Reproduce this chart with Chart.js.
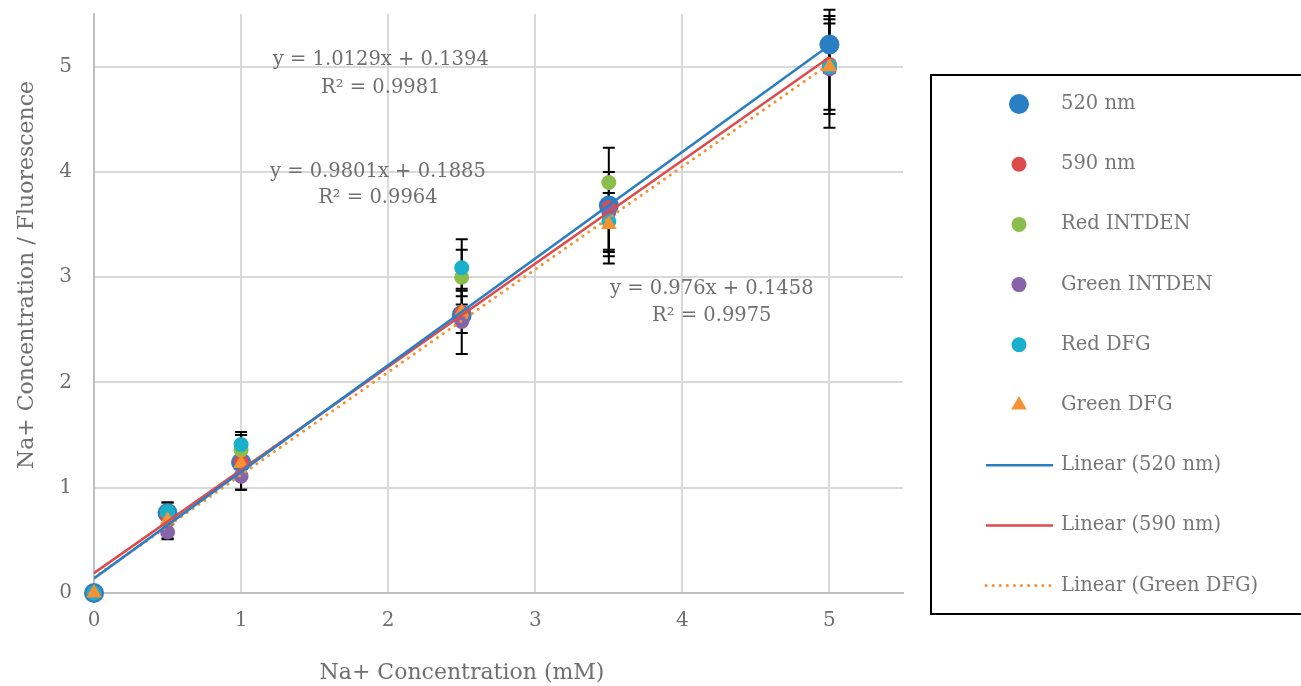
<!DOCTYPE html>
<html>
<head>
<meta charset="utf-8">
<script src="https://cdn.jsdelivr.net/npm/chart.js@4.4.0/dist/chart.umd.min.js"></script>
<style>
  html, body { margin: 0; padding: 0; background: #fff; }
  #wrap { width: 1301px; height: 686px; }
</style>
</head>
<body>
<div id="wrap"><canvas id="chart"></canvas></div>
<script>
// data
const concentrations = [0, 0.5, 1, 2.5, 3.5, 5];
const nm520 = [0, 0.76, 1.24, 2.64, 3.68, 5.21];
const nm590 = [0, 0.73, 1.25, 2.66, 3.66, 5.02];
const redIntden = [0, 0.77, 1.36, 3.0, 3.9, 5.0];
const greenIntden = [0, 0.58, 1.11, 2.58, 3.62, 4.98];
const redDfg = [0, 0.77, 1.41, 3.09, 3.53, 5.0];
const greenDfg = [0, 0.69, 1.23, 2.67, 3.5, 5.0];

// error bar half-widths
const err520 = [0, 0.1, 0.26, 0, 0.55, 0.27];
const err590 = [0, 0, 0, 0, 0, 0];
const errRedIntden = [0, 0, 0.14, 0.26, 0, 0];
const errGreenIntden = [0, 0.07, 0.13, 0.31, 0.38, 0.56];
const errRedDfg = [0, 0, 0.12, 0.27, 0.27, 0.41];
const errGreenDfg = [0, 0.17, 0, 0.2, 0.3, 0.45];

// trendline end points (x = 0 and x = 5)
const trendX = [0, 5];
const trend520 = [0.139, 5.204];
const trend590 = [0.189, 5.089];
const trendGreenDfg = [0.146, 5.026];

const xTicks = [0, 1, 2, 3, 4, 5];
const yTicks = [0, 1, 2, 3, 4, 5];

const equations = [
  { x: 1.95, y: 5.06, text: "y = 1.0129x + 0.1394" },
  { x: 1.95, y: 4.8, text: "R² = 0.9981" },
  { x: 1.93, y: 4.0, text: "y = 0.9801x + 0.1885" },
  { x: 1.93, y: 3.75, text: "R² = 0.9964" },
  { x: 4.2, y: 2.89, text: "y = 0.976x + 0.1458" },
  { x: 4.2, y: 2.63, text: "R² = 0.9975" },
];

const xTitle = "Na+ Concentration (mM)";
const yTitle = "Na+ Concentration / Fluorescence";

const FONT = "'DejaVu Serif', serif";
const GREY = "#6f6f6f";
const pts = (xs, ys) => xs.map((x, i) => ({ x: x, y: ys[i] }));

const colors = {
  blue: "#2a7ec3",
  red: "#dc4c4c",
  green: "#8bbd4c",
  purple: "#8763a9",
  cyan: "#1aafca",
  orange: "#f79233",
};

function markerSet(label, ys, errs, color, style, radius, order) {
  return {
    label: label,
    data: pts(concentrations, ys),
    errors: errs,
    backgroundColor: color,
    borderColor: color,
    pointStyle: style,
    pointRadius: radius,
    pointBorderWidth: 0,
    showLine: false,
    clip: false,
    order: order,
  };
}

function trendSet(label, ys, color, dash) {
  return {
    label: label,
    data: pts(trendX, ys),
    borderColor: color,
    backgroundColor: color,
    borderWidth: dash ? 3 : 2.5,
    borderDash: dash || [],
    borderCapStyle: dash ? "round" : "butt",
    pointRadius: 0,
    showLine: true,
    isTrend: true,
    order: 0,
  };
}

// error bars, drawn under the markers
const errorBars = {
  id: "errorBars",
  beforeDatasetsDraw(chart) {
    const { ctx, scales: { x, y } } = chart;
    ctx.save();
    ctx.strokeStyle = "#000";
    ctx.lineWidth = 2;
    chart.data.datasets.forEach((ds) => {
      if (!ds.errors) return;
      ds.data.forEach((p, i) => {
        const e = ds.errors[i];
        if (!e) return;
        const px = x.getPixelForValue(p.x);
        const top = y.getPixelForValue(p.y + e);
        const bot = y.getPixelForValue(p.y - e);
        ctx.beginPath();
        ctx.moveTo(px, top);
        ctx.lineTo(px, bot);
        ctx.moveTo(px - 6, top);
        ctx.lineTo(px + 6, top);
        ctx.moveTo(px - 6, bot);
        ctx.lineTo(px + 6, bot);
        ctx.stroke();
      });
    });
    ctx.restore();
  },
};

// trendline equations and the axis titles
const chartText = {
  id: "chartText",
  afterDatasetsDraw(chart) {
    const { ctx, scales: { x, y } } = chart;
    ctx.save();
    ctx.fillStyle = GREY;
    ctx.font = "19.5px " + FONT;
    ctx.textAlign = "center";
    ctx.textBaseline = "middle";
    equations.forEach((eq) => {
      ctx.fillText(eq.text, x.getPixelForValue(eq.x), y.getPixelForValue(eq.y));
    });
    ctx.font = "22px " + FONT;
    ctx.fillText(xTitle, 462, 673);
    ctx.translate(27, 275);
    ctx.rotate(-Math.PI / 2);
    ctx.fillText(yTitle, 0, 0);
    ctx.restore();
  },
};

// boxed legend on the right
const boxLegend = {
  id: "boxLegend",
  afterDraw(chart) {
    const ctx = chart.ctx;
    const left = 931, top = 75, bottom = 614;
    ctx.save();
    ctx.strokeStyle = "#000";
    ctx.lineWidth = 2;
    ctx.strokeRect(left, top, chart.width - left + 5, bottom - top);
    ctx.font = "19.5px " + FONT;
    ctx.textBaseline = "middle";
    ctx.textAlign = "left";
    chart.data.datasets.forEach((ds, i) => {
      const cy = 104 + i * 60.2;
      if (ds.isTrend) {
        ctx.beginPath();
        ctx.strokeStyle = ds.borderColor;
        ctx.lineWidth = ds.borderWidth;
        ctx.lineCap = ds.borderCapStyle;
        ctx.setLineDash(ds.borderDash);
        ctx.moveTo(986, cy);
        ctx.lineTo(1053, cy);
        ctx.stroke();
        ctx.setLineDash([]);
      } else {
        ctx.fillStyle = ds.backgroundColor;
        Chart.helpers.drawPoint(ctx, {
          pointStyle: ds.pointStyle,
          radius: ds.pointRadius,
          borderWidth: 0,
        }, 1019, cy);
      }
      ctx.fillStyle = "#767676";
      ctx.fillText(ds.label, 1061, cy);
    });
    ctx.restore();
  },
};

new Chart(document.getElementById("chart"), {
  type: "scatter",
  data: {
    datasets: [
      markerSet("520 nm", nm520, err520, colors.blue, "circle", 10, 6),
      markerSet("590 nm", nm590, err590, colors.red, "circle", 7.5, 5),
      markerSet("Red INTDEN", redIntden, errRedIntden, colors.green, "circle", 7.5, 4),
      markerSet("Green INTDEN", greenIntden, errGreenIntden, colors.purple, "circle", 7.5, 3),
      markerSet("Red DFG", redDfg, errRedDfg, colors.cyan, "circle", 7.5, 2),
      markerSet("Green DFG", greenDfg, errGreenDfg, colors.orange, "triangle", 9, 1),
      trendSet("Linear (520 nm)", trend520, colors.blue),
      trendSet("Linear (590 nm)", trend590, colors.red),
      trendSet("Linear (Green DFG)", trendGreenDfg, colors.orange, [0.1, 7]),
    ],
  },
  options: {
    responsive: true,
    maintainAspectRatio: false,
    animation: false,
    devicePixelRatio: 1,
    layout: { padding: { top: 14, right: 398, left: 0, bottom: 0 } },
    plugins: {
      legend: { display: false },
      tooltip: { enabled: false },
    },
    scales: {
      x: {
        type: "linear",
        min: 0,
        max: 5.5,
        afterBuildTicks: (scale) => {
          scale.ticks = xTicks.map((v) => ({ value: v }));
        },
        afterFit: (scale) => {
          scale.height = 93;
          scale.paddingLeft = 0;
          scale.paddingRight = 0;
        },
        grid: { color: "#d9d9d9", lineWidth: 2, drawTicks: false },
        border: { color: "#bfbfbf", width: 2 },
        ticks: { color: GREY, font: { family: FONT, size: 20 }, padding: 16 },
      },
      y: {
        type: "linear",
        min: 0,
        max: 5.5,
        afterBuildTicks: (scale) => {
          scale.ticks = yTicks.map((v) => ({ value: v }));
        },
        afterFit: (scale) => {
          scale.width = 94;
          scale.paddingTop = 0;
          scale.paddingBottom = 0;
        },
        grid: { color: "#d9d9d9", lineWidth: 2, drawTicks: false },
        border: { color: "#bfbfbf", width: 2 },
        ticks: { color: GREY, font: { family: FONT, size: 20 }, padding: 22 },
      },
    },
  },
  plugins: [errorBars, chartText, boxLegend],
});
</script>
</body>
</html>
